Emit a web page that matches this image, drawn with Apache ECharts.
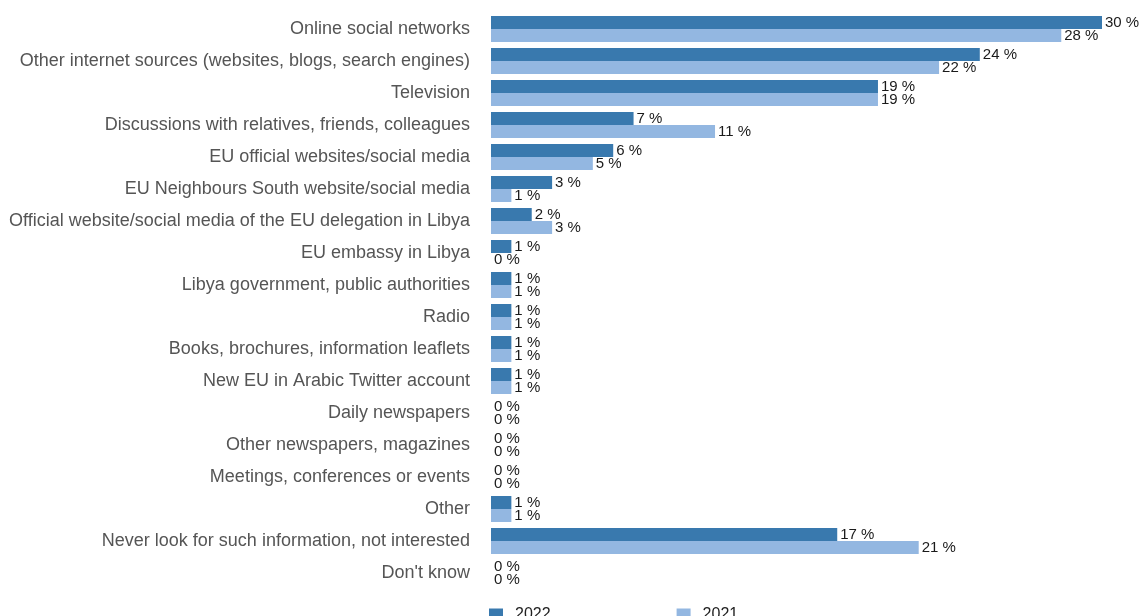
<!DOCTYPE html>
<html>
<head>
<meta charset="utf-8">
<style>
  html, body { margin: 0; padding: 0; background: #fff; }
  #chart { width: 1146px; height: 616px; }
</style>
<script src="https://cdn.jsdelivr.net/npm/echarts@6/dist/echarts.min.js"></script>
</head>
<body>
<div id="chart"></div>
<script>
const categories = [
  "Online social networks",
  "Other internet sources (websites, blogs, search engines)",
  "Television",
  "Discussions with relatives, friends, colleagues",
  "EU official websites/social media",
  "EU Neighbours South website/social media",
  "Official website/social media of the EU delegation in Libya",
  "EU embassy in Libya",
  "Libya government, public authorities",
  "Radio",
  "Books, brochures, information leaflets",
  "New EU in Arabic Twitter account",
  "Daily newspapers",
  "Other newspapers, magazines",
  "Meetings, conferences or events",
  "Other",
  "Never look for such information, not interested",
  "Don't know"
];
const values2022 = [30, 24, 19, 7, 6, 3, 2, 1, 1, 1, 1, 1, 0, 0, 0, 1, 17, 0];
const values2021 = [28, 22, 19, 11, 5, 1, 3, 0, 1, 1, 1, 1, 0, 0, 0, 1, 21, 0];
const seriesNames = ["2022", "2021"];

const FONT = 'Liberation Sans, Helvetica, Arial, sans-serif';
const chart = echarts.init(document.getElementById('chart'));

const valueLabel = {
  show: true,
  position: 'right',
  distance: 3,
  color: '#1a1a1a',
  fontFamily: FONT,
  fontSize: 15,
  formatter: p => p.value + ' %'
};

chart.setOption({
  animation: false,
  grid: { left: 491, top: 13, width: 611, height: 576, containLabel: false },
  legend: {
    left: 484,
    top: 602,
    itemWidth: 14,
    itemHeight: 13,
    itemGap: 126,
    icon: 'rect',
    textStyle: { color: '#222', fontSize: 16, fontFamily: FONT, padding: [0, 0, 0, 7] },
    data: seriesNames
  },
  xAxis: {
    type: 'value',
    min: 0,
    max: 30,
    show: false
  },
  yAxis: {
    type: 'category',
    data: categories,
    inverse: true,
    axisLine: { show: false },
    axisTick: { show: false },
    axisLabel: {
      margin: 21,
      color: '#555',
      fontSize: 18,
      fontFamily: FONT
    }
  },
  series: [
    {
      name: seriesNames[0],
      type: 'bar',
      data: values2022,
      barWidth: 13,
      barGap: '0%',
      itemStyle: { color: '#3979ae' },
      label: valueLabel
    },
    {
      name: seriesNames[1],
      type: 'bar',
      data: values2021,
      barWidth: 13,
      barGap: '0%',
      itemStyle: { color: '#93b7e1' },
      label: valueLabel
    }
  ]
});
</script>
</body>
</html>
